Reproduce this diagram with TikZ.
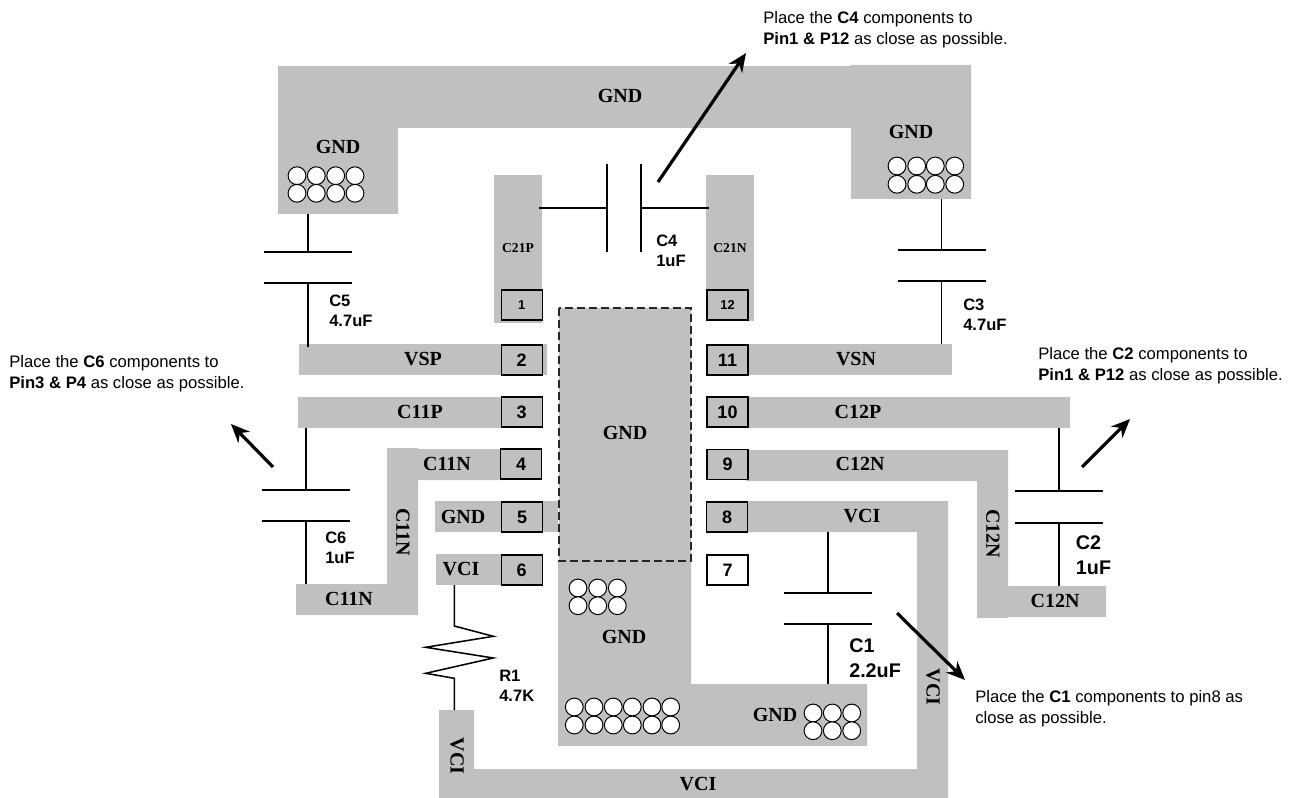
\documentclass[tikz,border=0pt]{standalone}
\usepackage{fontspec}
\setmainfont{Liberation Sans}
\newfontfamily\padfont{Liberation Serif}
\usetikzlibrary{arrows.meta}
\definecolor{padgray}{HTML}{C0C0C0}

\begin{document}
\begin{tikzpicture}[x=0.75pt, y=-0.75pt,
    pad/.style={fill=padgray, draw=none},
    netlabel/.style={font=\padfont\bfseries\fontsize{15}{16}\selectfont, inner sep=0pt},
    smallnet/.style={font=\padfont\bfseries\fontsize{10.2}{12}\selectfont, inner sep=0pt},
    pinbox/.style={draw=black, line width=0.8pt, fill=padgray, minimum width=30.75pt, minimum height=22.5pt, inner sep=0pt, font=\bfseries\fontsize{13.5}{15}\selectfont},
    smallpin/.style={pinbox, font=\bfseries\fontsize{9.7}{11}\selectfont},
    wire/.style={line width=1.15pt, black},
    via/.style={draw=black, line width=0.75pt, fill=white},
    value/.style={align=left, anchor=west, inner sep=0pt, font=\bfseries\fontsize{12.4}{15}\selectfont},
    bigvalue/.style={align=left, anchor=west, inner sep=0pt, font=\bfseries\fontsize{14.8}{18.4}\selectfont},
    note/.style={align=left, anchor=west, inner sep=0pt, font=\fontsize{12.5}{15.75}\selectfont},
    pointer/.style={line width=2.4pt, -{Stealth[length=14pt, width=12pt]}}]

\useasboundingbox (0,0) rectangle (1295,798);

% GND copper
\fill[pad] (278,66) -- (851,66) -- (851,65) -- (971,65) -- (971,199) -- (851,199) -- (851,128) -- (398,128) -- (398,214) -- (278,214) -- cycle;
\fill[pad] (558,561) -- (691,561) -- (691,684) -- (867,684) -- (867,746) -- (558,746) -- cycle;
\draw[fill=padgray, draw=black!85, dash pattern=on 6pt off 3pt, line width=0.8pt] (559,308) rectangle (691,561);

% Left side strips
\fill[pad] (494,175) rectangle (542,323);
\fill[pad] (299,344) rectangle (547,375);
\fill[pad] (298,397) rectangle (503,428);
\fill[pad] (387,448) -- (418,448) -- (418,449) -- (503,449) -- (503,480) -- (418,480) -- (418,615) -- (296,615) -- (296,584) -- (387,584) -- cycle;
\fill[pad] (435,501) rectangle (558,532);
\fill[pad] (436,554) rectangle (503,585);

% Right side strips
\fill[pad] (706,175) rectangle (754,321);
\fill[pad] (746,344) rectangle (952,375);
\fill[pad] (746,397) rectangle (1070,428);
\fill[pad] (746,450) -- (1008,450) -- (1008,586) -- (1106,586) -- (1106,617) -- (1008,617) -- (1008,618) -- (977,618) -- (977,481) -- (746,481) -- cycle;
\fill[pad] (746,501) -- (948,501) -- (948,798) -- (439,798) -- (439,710) -- (474,710) -- (474,769) -- (917,769) -- (917,532) -- (746,532) -- cycle;

% Pins
\foreach \pinnum/\x/\y in {2/521.7/360, 3/521.7/412, 4/521.2/464, 5/522/517, 6/521.7/570, 11/727.5/360, 10/727.5/412, 9/727.5/464.5, 8/727/517}
    \node[pinbox] (pin\pinnum) at (\x,\y) {\pinnum};
\node[smallpin] (pin1) at (521.7,305) {1};
\node[smallpin] (pin12) at (727.5,305) {12};
\node[pinbox, fill=white] (pin7) at (727.5,570) {7};

% Vias
\foreach \x in {297,316.3,335.7,355}
    \foreach \y in {175.7,193.3}
        \draw[via] (\x,\y) circle (8.9);
\foreach \x in {897,916.7,935.3,954.7}
    \foreach \y in {166,184.3}
        \draw[via] (\x,\y) circle (8.9);
\foreach \x in {578,597.7,617.3}
    \foreach \y in {588,605.7}
        \draw[via] (\x,\y) circle (8.9);
\foreach \x in {574.3,594,613.3,632.3,652,670.7}
    \foreach \y in {707,725}
        \draw[via] (\x,\y) circle (8.9);
\foreach \x in {813,832.3,851.7}
    \foreach \y in {713,730.7}
        \draw[via] (\x,\y) circle (8.9);

% Net names
\node[netlabel] (gndtop) at (620,96) {GND};
\node[netlabel] (gndleft) at (338,147) {GND};
\node[netlabel] (gndright) at (911,132) {GND};
\node[netlabel] (gndmid) at (625,433) {GND};
\node[netlabel] (gndlow) at (624,637) {GND};
\node[netlabel] (gndcorner) at (775,715) {GND};
\node[smallnet] (c21p) at (518,248) {C21P};
\node[smallnet] (c21n) at (730,248) {C21N};
\node[netlabel] (vsp) at (423,359) {VSP};
\node[netlabel] (c11p) at (420,412) {C11P};
\node[netlabel] (c11na) at (447,464) {C11N};
\node[netlabel, rotate=-90] (c11nb) at (403,532) {C11N};
\node[netlabel] (c11nc) at (349,599) {C11N};
\node[netlabel] (gndpin) at (463,517) {GND};
\node[netlabel] (vcipin) at (461,569) {VCI};
\node[netlabel] (vsn) at (856,359) {VSN};
\node[netlabel] (c12p) at (858,412) {C12P};
\node[netlabel] (c12na) at (860,464) {C12N};
\node[netlabel, rotate=-90] (c12nb) at (993,534) {C12N};
\node[netlabel] (c12nc) at (1055,601) {C12N};
\node[netlabel] (vcia) at (862,516) {VCI};
\node[netlabel, rotate=-90] (vcib) at (933,687) {VCI};
\node[netlabel] (vcic) at (698,784) {VCI};
\node[netlabel, rotate=-90] (vcid) at (457,756) {VCI};

% Capacitors, top wire / plates / bottom wire
\foreach \capname/\x/\ya/\yb/\yc/\yd in {C5/308/214/252/283/347, C3/941.7/199/250/281/344, C6/306/428/490/521/584, C2/1059/428/491/523/586, C1/828/532/593/624/684} {
    \coordinate (\capname top) at (\x,\ya);
    \coordinate (\capname up) at (\x,\yb);
    \coordinate (\capname dn) at (\x,\yc);
    \coordinate (\capname end) at (\x,\yd);
    \draw[wire] (\capname top) -- (\capname up);
    \draw[wire] ([xshift=-33pt]\capname up) -- ([xshift=33pt]\capname up);
    \draw[wire] ([xshift=-33pt]\capname dn) -- ([xshift=33pt]\capname dn);
    \draw[wire] (\capname dn) -- (\capname end);
}
\coordinate (C4left) at (539,208);
\coordinate (C4right) at (709,208);
\draw[wire] (C4left) -- (607,208);
\draw[wire] (607,164) -- (607,252);
\draw[wire] (641,164) -- (641,252);
\draw[wire] (641,208) -- (C4right);

% Resistor
\coordinate (R1top) at (454.3,585);
\coordinate (R1end) at (454.3,710);
\draw[wire] (R1top) -- (454.3,626) -- (493.3,636.3) -- (425.7,647.3) -- (493.3,658) -- (425.7,673.3) -- (454.3,678.3) -- (R1end);

% Part values
\node[value] (valC5) at (329,311) {C5\\4.7uF};
\node[value] (valC3) at (963,315) {C3\\4.7uF};
\node[value] (valC4) at (656,251) {C4\\1uF};
\node[value] (valC6) at (325,548) {C6\\1uF};
\node[value] (valR1) at (499,686) {R1\\4.7K};
\node[bigvalue] (valC2) at (1075.7,555) {C2\\1uF};
\node[bigvalue] (valC1) at (849,658) {C1\\2.2uF};

% Placement notes
\node[note] (noteC4) at (763,29.5) {Place the \textbf{C4} components to\\\textbf{Pin1 \& P12} as close as possible.};
\node[note] (noteC6) at (9,373.5) {Place the \textbf{C6} components to\\\textbf{Pin3 \& P4} as close as possible.};
\node[note] (noteC2) at (1038,365.5) {Place the \textbf{C2} components to\\\textbf{Pin1 \& P12} as close as possible.};
\node[note] (noteC1) at (975,708.5) {Place the \textbf{C1} components to pin8 as\\close as possible.};

% Pointers
\coordinate (arrC4) at (658,182);
\coordinate (arrC6) at (273,467);
\coordinate (arrC2) at (1082,467);
\coordinate (arrC1) at (897,613);
\draw[pointer] (arrC4) -- (746,53);
\draw[pointer] (arrC6) -- (231,424);
\draw[pointer] (arrC2) -- (1130,419);
\draw[pointer] (arrC1) -- (965,680);

\end{tikzpicture}
\end{document}
